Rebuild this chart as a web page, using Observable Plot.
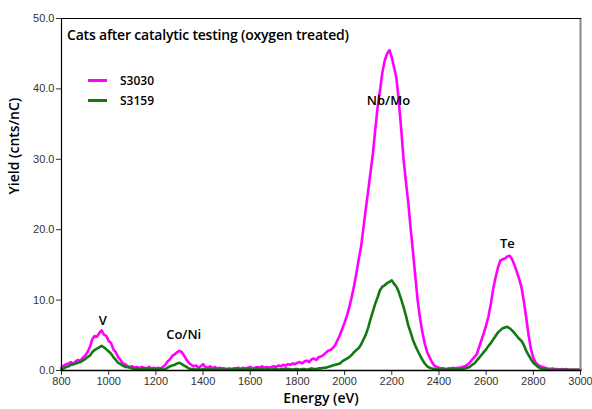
<!DOCTYPE html>
<html>
<head>
<meta charset="utf-8">
<script src="https://cdn.jsdelivr.net/npm/d3@7"></script>
<script src="https://cdn.jsdelivr.net/npm/@observablehq/plot@0.6"></script>
<style>
  body { margin: 0; background: #fff; }
  #wrap { position: relative; width: 592px; height: 409px; }
  .title { position: absolute; left: 67px; top: 25px; font-family: "Open Sans", sans-serif; font-size: 14px; font-weight: 600; color: #000; letter-spacing: -0.2px; }
  .legend { position: absolute; left: 88px; top: 70px; font-family: "Open Sans", sans-serif; font-size: 12px; font-weight: 600; color: #000; }
  .legend .row { display: flex; align-items: center; height: 20px; }
  .legend .sw { width: 19px; height: 3px; margin-right: 13px; }
</style>
</head>
<body>
<div id="wrap"></div>
<script>
const seriesNames = ["S3030", "S3159"];
const seriesColors = ["#ff00ff", "#127a12"];
const titleText = "Cats after catalytic testing (oxygen treated)";
const xLabel = "Energy (eV)";
const yLabel = "Yield (cnts/nC)";
const xTicks = [800, 1000, 1200, 1400, 1600, 1800, 2000, 2200, 2400, 2600, 2800, 3000];
const yTicks = [0, 10, 20, 30, 40, 50];

// energy grid, 10 eV steps from 800 to 3000 eV
const energy = d3.range(800, 3001, 10);

const s3030 = [
  0.4,0.7,0.9,1.0,1.2,0.9,1.3,1.5,1.4,1.8,
  2.1,2.6,3.3,4.4,4.9,4.8,5.3,5.7,5.1,4.9,
  4.2,3.9,3.0,2.6,1.9,1.5,1.0,0.9,0.6,0.5,
  0.6,0.4,0.5,0.3,0.5,0.4,0.3,0.5,0.3,0.4,
  0.3,0.4,0.3,0.5,0.8,1.3,1.6,2.1,2.3,2.6,
  2.8,2.6,2.1,1.5,1.1,0.8,0.6,0.7,0.4,0.6,
  0.9,0.5,0.4,0.6,0.3,0.5,0.3,0.4,0.3,0.3,
  0.2,0.3,0.2,0.3,0.3,0.4,0.2,0.4,0.3,0.4,
  0.5,0.3,0.4,0.5,0.4,0.6,0.4,0.5,0.4,0.5,
  0.6,0.5,0.7,0.6,0.8,0.7,0.9,0.8,1.0,0.9,
  1.1,1.2,1.0,1.3,1.4,1.2,1.6,1.7,1.5,1.9,
  2.0,2.2,2.5,2.8,2.9,3.2,3.6,4.3,5.0,5.9,
  6.8,7.8,9.0,10.4,12.0,13.8,15.8,17.6,20.3,23.0,
  25.5,28.2,30.8,34.2,37.4,39.7,42.3,44.0,45.0,45.5,
  44.5,43.0,41.5,38.2,34.3,30.0,26.8,23.8,20.2,16.8,
  13.3,9.9,7.4,5.4,3.8,2.6,1.9,1.2,0.7,0.5,
  0.4,0.3,0.3,0.2,0.3,0.3,0.4,0.3,0.4,0.4,
  0.5,0.6,0.8,1.1,1.5,1.9,2.3,3.3,4.3,5.3,
  6.4,7.7,9.5,11.6,13.2,14.6,15.6,15.8,15.9,16.2,
  16.3,15.8,15.0,14.0,13.0,11.8,9.8,7.5,5.0,3.0,
  1.8,1.1,0.8,0.6,0.5,0.4,0.3,0.2,0.3,0.2,
  0.2,0.1,0.2,0.1,0.2,0.1,0.1,0.1,0.1,0.1,
  0.1
];

const s3159 = [
  0.2,0.3,0.5,0.6,0.8,0.9,1.0,1.1,1.2,1.4,
  1.6,1.9,2.1,2.6,2.9,3.1,3.3,3.5,3.3,3.0,
  2.7,2.4,1.9,1.5,1.1,0.9,0.7,0.5,0.5,0.4,
  0.3,0.2,0.3,0.2,0.2,0.3,0.2,0.2,0.1,0.2,
  0.2,0.1,0.2,0.1,0.2,0.4,0.6,0.7,0.8,1.0,
  1.1,0.9,0.7,0.5,0.3,0.2,0.2,0.1,0.2,0.1,
  0.2,0.2,0.1,0.2,0.1,0.2,0.1,0.1,0.2,0.1,
  0.1,0.2,0.1,0.2,0.2,0.1,0.2,0.1,0.2,0.2,
  0.2,0.1,0.2,0.3,0.2,0.2,0.1,0.2,0.2,0.1,
  0.2,0.2,0.1,0.2,0.2,0.3,0.2,0.2,0.1,0.2,
  0.2,0.1,0.2,0.2,0.1,0.2,0.3,0.2,0.2,0.3,
  0.3,0.4,0.4,0.5,0.6,0.7,0.8,0.9,1.0,1.3,
  1.5,1.7,1.9,2.2,2.6,2.9,3.2,3.7,4.4,5.1,
  6.1,7.3,8.4,9.5,10.4,11.4,11.9,12.1,12.4,12.6,
  12.8,12.3,11.9,11.1,10.1,9.0,7.8,6.4,5.4,4.3,
  3.5,2.8,2.1,1.5,1.0,0.6,0.4,0.3,0.2,0.2,
  0.1,0.2,0.1,0.1,0.2,0.1,0.2,0.2,0.1,0.2,
  0.2,0.3,0.4,0.5,0.8,1.0,1.4,1.8,2.2,2.6,
  3.0,3.5,3.9,4.4,4.9,5.4,5.7,6.0,6.1,6.2,
  6.0,5.7,5.3,4.9,4.5,4.2,3.6,2.8,2.2,1.6,
  1.1,0.8,0.5,0.3,0.2,0.2,0.1,0.1,0.1,0.1,
  0.1,0.1,0.1,0.1,0.1,0.1,0.1,0.1,0.1,0.1,
  0.1
];

const peakNames = ["V", "Co/Ni", "Nb/Mo", "Te"];
const peakEnergy = [975, 1318, 2186, 2690];
const peakLabelY = [7.0, 5.0, 38.3, 18.0];

const rows = [];
[s3030, s3159].forEach((vals, si) => {
  vals.forEach((v, i) => rows.push({energy: energy[i], yield: v, series: seriesNames[si]}));
});
const peaks = peakNames.map((n, i) => ({name: n, x: peakEnergy[i], y: peakLabelY[i]}));

const tickFont = "Liberation Sans, Arial, sans-serif";
const handFont = "Open Sans, sans-serif";

const chart = Plot.plot({
  width: 592,
  height: 409,
  marginLeft: 61,
  marginRight: 12,
  marginTop: 18,
  marginBottom: 39,
  style: {fontFamily: tickFont, fontSize: "11px", background: "#fff"},
  x: {domain: [800, 3000], ticks: xTicks},
  y: {domain: [0, 50], ticks: yTicks},
  color: {domain: seriesNames, range: seriesColors},
  marks: [
    Plot.axisX({ticks: xTicks, tickSize: 5, tickPadding: 2, tickFormat: d3.format("d"), label: null, color: "#333", fontSize: 11}),
    Plot.axisY({ticks: yTicks, tickSize: 5, tickPadding: 2, tickFormat: d3.format(".1f"), label: null, color: "#333", fontSize: 11}),
    Plot.line(rows, {x: "energy", y: "yield", z: "series", stroke: "series", strokeWidth: 2.6, curve: "linear"}),
    Plot.text(peaks, {x: "x", y: "y", text: "name", fontFamily: handFont, fontWeight: 600, fontSize: 13, fill: "#000"}),
    Plot.ruleX([3000], {stroke: "#888", strokeWidth: 2}),
    Plot.frame({stroke: "#000", strokeWidth: 1.2, anchor: "left"}),
    Plot.frame({stroke: "#000", strokeWidth: 1.2, anchor: "top"}),
    Plot.frame({stroke: "#000", strokeWidth: 1.5, anchor: "bottom"}),
    Plot.text([xLabel], {frameAnchor: "bottom", dy: 32, fontFamily: handFont, fontWeight: 600, fontSize: 14, fill: "#000"}),
    Plot.text([yLabel], {frameAnchor: "left", dx: -47, rotate: -90, fontFamily: handFont, fontWeight: 600, fontSize: 14, fill: "#000"})
  ]
});

const wrap = document.getElementById("wrap");
wrap.appendChild(chart);

const title = document.createElement("div");
title.className = "title";
title.textContent = titleText;
wrap.appendChild(title);

const legend = document.createElement("div");
legend.className = "legend";
seriesNames.forEach((n, i) => {
  const row = document.createElement("div");
  row.className = "row";
  const sw = document.createElement("div");
  sw.className = "sw";
  sw.style.background = seriesColors[i];
  const lab = document.createElement("span");
  lab.textContent = n;
  row.appendChild(sw);
  row.appendChild(lab);
  legend.appendChild(row);
});
wrap.appendChild(legend);
</script>
</body>
</html>
